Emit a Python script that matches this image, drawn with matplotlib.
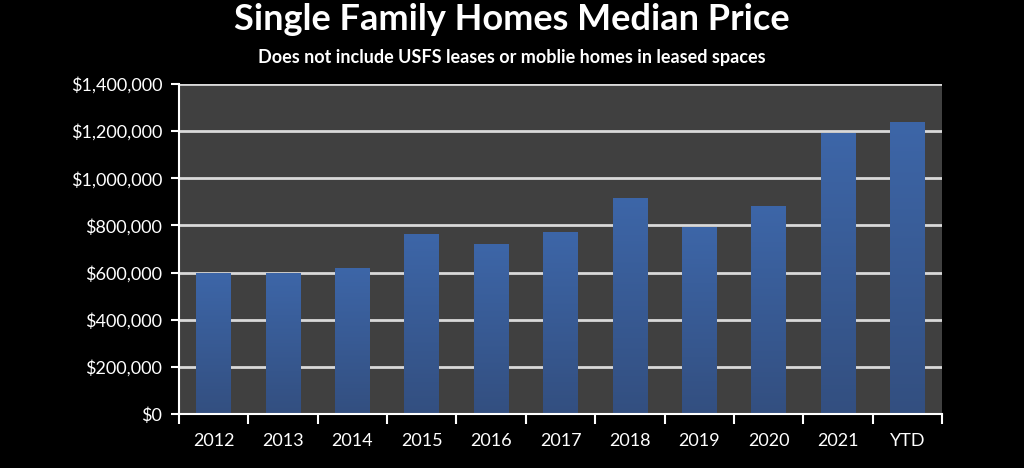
import numpy as np
import matplotlib.pyplot as plt
from matplotlib.ticker import FuncFormatter
from matplotlib.colors import LinearSegmentedColormap

years = ['2012', '2013', '2014', '2015', '2016', '2017', '2018', '2019', '2020', '2021', 'YTD']
median_price = [597000, 600000, 621000, 765000, 723000, 773000, 917000, 795000, 883000, 1192000, 1239000]

plt.rcParams['font.family'] = ['Lato', 'DejaVu Sans']

fig = plt.figure(figsize=(10.24, 4.68), dpi=100, facecolor='black')
ax = fig.add_axes([0.1748, 0.1154, 0.7452, 0.7051])
ax.set_facecolor('#404040')

x = np.arange(len(years))
bars = ax.bar(x, median_price, width=0.5, color='#3d66a8', zorder=3)

# vertical gradient in each bar, lighter at top
grad = np.linspace(0, 1, 256).reshape(-1, 1)
cmap = LinearSegmentedColormap.from_list('bar', ['#334f80', '#3d66a8'])
for b in bars:
    bx, by = b.get_x(), b.get_y()
    w, h = b.get_width(), b.get_height()
    im = ax.imshow(grad, cmap=cmap, extent=[bx, bx + w, by, by + h],
                   origin='lower', aspect='auto', zorder=3.5)
    im.set_clip_path(b)

ax.set_xlim(-0.5, len(years) - 0.5)
ax.set_ylim(0, 1400000)
ax.set_yticks(np.arange(0, 1400001, 200000))
ax.yaxis.set_major_formatter(FuncFormatter(lambda v, p: f'${v:,.0f}'))
ax.grid(axis='y', color='#d9d9d9', linewidth=2, zorder=1)

ax.set_xticks(x)
ax.set_xticklabels(years)
ax.set_xticks(np.arange(-0.5, len(years)), minor=True)
ax.tick_params(axis='x', which='major', length=0, pad=14, labelsize=13, colors='white')
ax.tick_params(axis='x', which='minor', length=7, width=1.5, color='white', direction='out')
ax.tick_params(axis='y', length=6, width=1.5, color='white', labelsize=13, labelcolor='white', pad=6)

for s in ['top', 'right']:
    ax.spines[s].set_visible(False)
for s in ['left', 'bottom']:
    ax.spines[s].set_color('white')
    ax.spines[s].set_linewidth(1.5)
    ax.spines[s].set_zorder(5)

fig.text(0.5, 0.958, 'Single Family Homes Median Price', ha='center', va='center',
         color='white', fontsize=26, fontweight='bold')
fig.text(0.5, 0.878, 'Does not include USFS leases or moblie homes in leased spaces',
         ha='center', va='center', color='white', fontsize=13, fontweight='bold')

fig.savefig('out.png', dpi=100, facecolor='black')
